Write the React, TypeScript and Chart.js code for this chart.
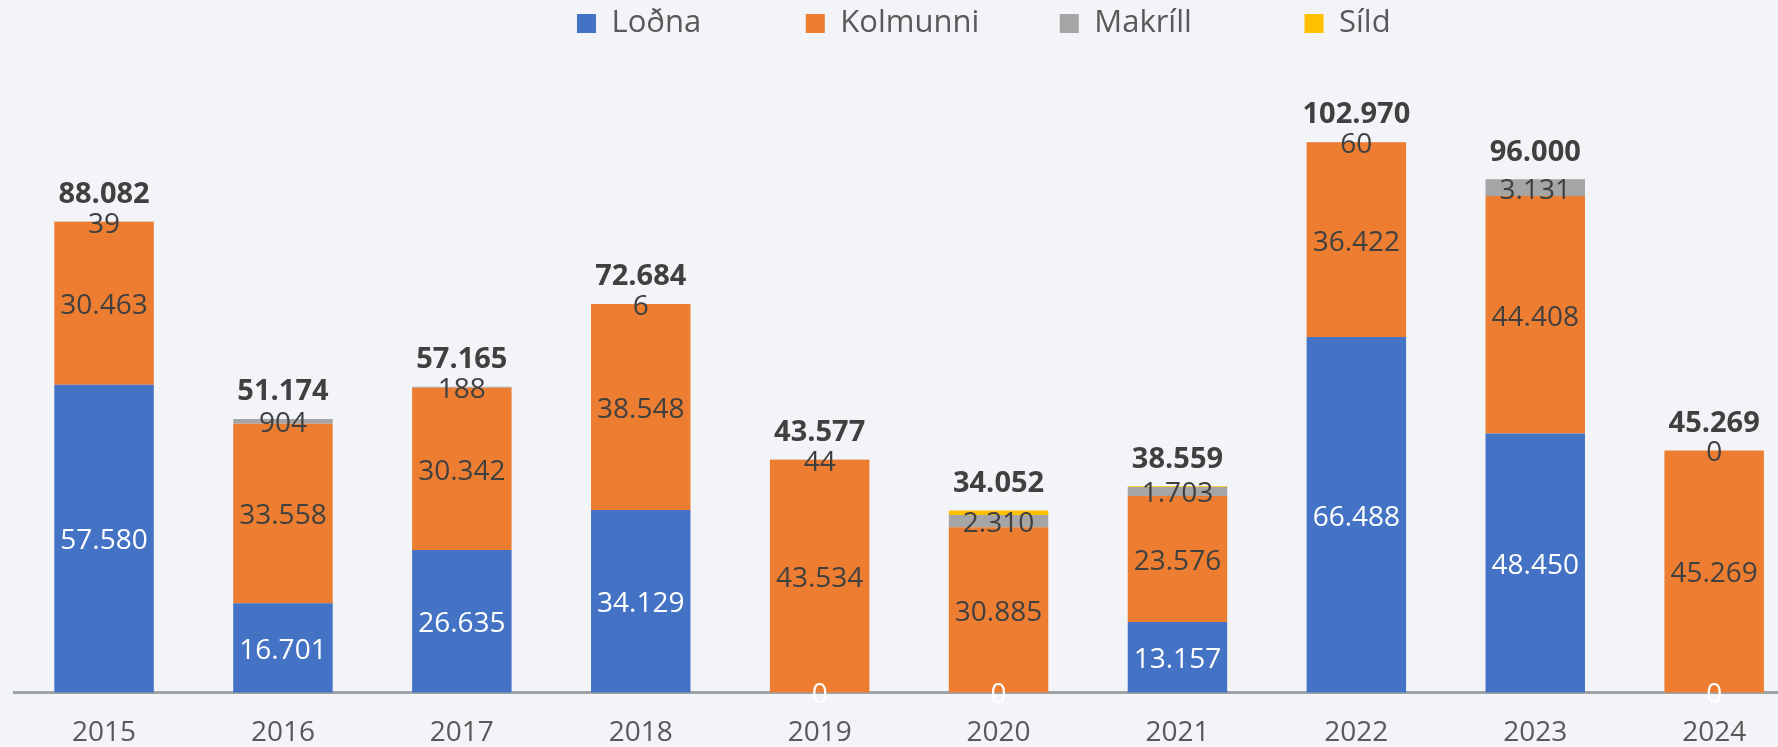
import React, { useEffect, useRef } from 'react';
import { Chart, registerables } from 'chart.js';

Chart.register(...registerables);

const years = ['2015', '2016', '2017', '2018', '2019', '2020', '2021', '2022', '2023', '2024'];
const lodna = [57580, 16701, 26635, 34129, 0, 0, 13157, 66488, 48450, 0];
const kolmunni = [30463, 33558, 30342, 38548, 43534, 30885, 23576, 36422, 44408, 45269];
const makrill = [39, 904, 188, 6, 44, 2310, 1703, 60, 3131, 0];
const sild = [0, 11, 0, 1, 0, 857, 123, 0, 11, 0];
const totals = [88082, 51174, 57165, 72684, 43577, 34052, 38559, 102970, 96000, 45269];
const seriesNames = ['Loðna', 'Kolmunni', 'Makríll', 'Síld'];
const seriesColors = ['#4472C4', '#ED7D31', '#A5A5A5', '#FFC000'];

const BG = '#f2f4f8';
const FONT = '"Open Sans", sans-serif';
const legendGapSpaces = [12, 9, 13, 0];

const fmt = (v: number) => Math.round(v).toString().replace(/\B(?=(\d{3})+(?!\d))/g, '.');

const bgPlugin = {
  id: 'bgFill',
  beforeDraw(chart: any) {
    const ctx = chart.ctx;
    ctx.save();
    ctx.fillStyle = BG;
    ctx.fillRect(0, 0, chart.width, chart.height);
    ctx.restore();
  },
};

const labelPlugin = {
  id: 'stackLabels',
  afterDraw(chart: any) {
    const ctx = chart.ctx;
    const series = [lodna, kolmunni, makrill];
    ctx.save();
    ctx.textAlign = 'center';
    ctx.textBaseline = 'middle';
    ctx.font = `28px ${FONT}`;
    series.forEach((vals, di) => {
      const meta = chart.getDatasetMeta(di);
      meta.data.forEach((el: any, i: number) => {
        const p = el.getProps(['x', 'y', 'base'], true);
        ctx.fillStyle = di === 0 ? '#ffffff' : '#404040';
        ctx.fillText(fmt(vals[i]), p.x, (p.y + p.base) / 2 + 3);
      });
    });
    const topMeta = chart.getDatasetMeta(3);
    ctx.font = `bold 29px ${FONT}`;
    ctx.fillStyle = '#404040';
    topMeta.data.forEach((el: any, i: number) => {
      const p = el.getProps(['x', 'y'], true);
      ctx.fillText(fmt(totals[i]), p.x, p.y - 27);
    });
    ctx.restore();
  },
};

export default function App() {
  const ref = useRef<HTMLCanvasElement | null>(null);

  useEffect(() => {
    if (!ref.current) return;
    Chart.defaults.font.family = FONT;
    const seriesData = [lodna, kolmunni, makrill, sild];
    const chart = new Chart(ref.current, {
      type: 'bar',
      data: {
        labels: years,
        datasets: seriesNames.map((name, i) => ({
          label: name,
          data: seriesData[i],
          backgroundColor: seriesColors[i],
          borderWidth: 0,
          barPercentage: 0.556,
          categoryPercentage: 1,
          clip: false as any,
        })),
      },
      options: {
        responsive: false,
        animation: false,
        devicePixelRatio: 1,
        layout: { padding: { left: 14.6, right: 0, top: 0, bottom: 0 } },
        plugins: {
          tooltip: { enabled: false },
          legend: {
            position: 'top',
            align: 'center',
            labels: {
              boxWidth: 19,
              boxHeight: 19,
              padding: 8,
              color: '#595959',
              font: { size: 31, family: FONT },
              generateLabels: (c: any) => {
                const items = (Chart.defaults.plugins.legend.labels as any).generateLabels(c);
                items.forEach((it: any, i: number) => {
                  it.text = it.text + ' '.repeat(legendGapSpaces[i] || 0);
                });
                return items;
              },
            },
          },
        },
        scales: {
          x: {
            stacked: true,
            offset: true,
            z: 1,
            grid: { display: false, drawTicks: false },
            border: { display: true, color: '#9ea3a8', width: 3 },
            ticks: { color: '#595959', font: { size: 28, family: FONT }, padding: 24 },
          },
          y: {
            stacked: true,
            display: false,
            min: 0,
            max: 120380,
          },
          y2: {
            position: 'right',
            display: true,
            grid: { display: false, drawTicks: false },
            border: { display: false },
            ticks: { display: false },
            afterFit: (s: any) => {
              s.width = 149.4;
            },
          },
        },
      } as any,
      plugins: [bgPlugin, labelPlugin],
    });
    return () => chart.destroy();
  }, []);

  return (
    <div
      style={{
        position: 'fixed',
        left: 0,
        top: 0,
        width: 1778,
        height: 747,
        overflow: 'hidden',
        background: BG,
      }}
    >
      <canvas ref={ref} width={1953} height={774} style={{ display: 'block' }} />
    </div>
  );
}
